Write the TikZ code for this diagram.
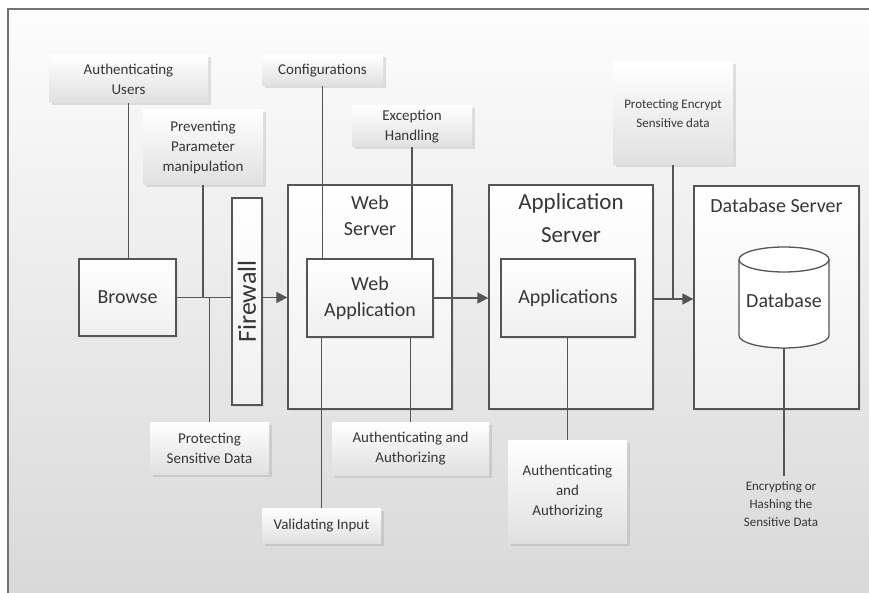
\documentclass[tikz,border=0pt]{standalone}
\usepackage{fontspec}
\setmainfont{Carlito}
\usepackage{tikz}
\usetikzlibrary{shadows}
\usetikzlibrary{arrows.meta}
\definecolor{linegray}{HTML}{555555}
\definecolor{textgray}{HTML}{363636}
\tikzset{note/.style={rectangle, top color=white, bottom color=black!12, align=center,
   text=textgray, font=\fontsize{15}{20}\selectfont,
   drop shadow={opacity=.22, shadow xshift=2.5pt, shadow yshift=-2.5pt}},
 small/.style={font=\fontsize{13}{19}\selectfont},
 block/.style={rectangle, draw=linegray, line width=1.3pt, top color=white, bottom color=black!6,
   align=center, text=textgray, font=\fontsize{20}{26}\selectfont,
   drop shadow={opacity=.12, shadow xshift=2pt, shadow yshift=-2pt}},
 title/.style={align=center, text=textgray, font=\fontsize{20}{26}\selectfont},
 wire/.style={draw=linegray, line width=1.3pt},
 flow/.style={wire, -{Triangle[length=11pt,width=11pt]}},
 }

\begin{document}
\begin{tikzpicture}[x=1pt, y=-1pt]
    \useasboundingbox (0,0) rectangle (869,593);
    \fill[white] (0,0) rectangle (869,593);
    \shade[top color=black!1, bottom color=black!15] (8,9) rectangle (869,593);
    \draw[black!55, line width=2pt] (8,593) -- (8,9) -- (869,9);

    % servers
    \node[block, minimum width=97, minimum height=77] (browse) at (127.5,297.5) {Browse};
    \node[block, minimum width=30, minimum height=207] (firewall) at (247,301.5) {};
    \node[title, rotate=90, font=\fontsize{26}{30}\selectfont] (fwtext) at (firewall.center) {Firewall};
    \node[block, minimum width=164, minimum height=224] (websrv) at (370,297) {};
    \node[title] (websrvtext) at (370,216) {Web\\Server};
    \node[block, minimum width=126, minimum height=78] (webapp) at (370,298) {Web\\Application};
    \node[block, minimum width=164, minimum height=224] (appsrv) at (571,297) {};
    \node[title, font=\fontsize{23}{33}\selectfont] (appsrvtext) at (571,218.5) {Application\\Server};
    \node[block, minimum width=134, minimum height=78] (apps) at (568,298) {Applications};
    \node[block, minimum width=165, minimum height=223] (dbsrv) at (776.5,297.5) {};
    \node[title] (dbsrvtext) at (776.5,206) {Database Server};

    % database cylinder
    \draw[wire, fill=white] (739,259.5) -- (739,335.5)
        arc[start angle=180, end angle=0, x radius=45, y radius=12.5] -- (829,259.5)
        arc[start angle=0, end angle=-180, x radius=45, y radius=12.5] -- cycle;
    \draw[wire] (739,259.5) arc[start angle=180, end angle=0, x radius=45, y radius=12.5];
    \node[title] (db) at (784,301) {Database};
    \coordinate (dbbot) at (784,348);

    % notes
    \node[note, minimum width=159, minimum height=48] (authusers) at (128.5,79) {Authenticating\\Users};
    \node[note, minimum width=120, minimum height=75] (prevent) at (203,147.5) {Preventing\\Parameter\\manipulation};
    \node[note, minimum width=121, minimum height=31] (config) at (322.5,70.5) {Configurations};
    \node[note, minimum width=120, minimum height=41] (exception) at (412,126.5) {Exception\\Handling};
    \node[note, small, minimum width=120, minimum height=103] (protenc) at (673,113.5) {Protecting Encrypt\\Sensitive data};
    \node[note, minimum width=119, minimum height=52] (protsens) at (209.5,448) {Protecting\\Sensitive Data};
    \node[note, minimum width=119, minimum height=35] (validate) at (321.5,525.5) {Validating Input};
    \node[note, minimum width=157, minimum height=53] (authweb) at (410.5,448.5) {Authenticating and\\Authorizing};
    \node[note, minimum width=119, minimum height=103] (authapp) at (567.5,491.5) {Authenticating\\and\\Authorizing};
    \node[small, align=center, text=textgray, inner ysep=5pt, font=\fontsize{13}{18}\selectfont] (encrypt) at (781,504) {Encrypting or\\Hashing the\\Sensitive Data};

    % connectors
    \draw[wire] (browse.east) -- (browse.east -| firewall.west);
    \draw[flow] (browse.east -| firewall.east) -- (browse.east -| websrv.west);
    \draw[flow] (webapp.east) -- (webapp.east -| appsrv.west);
    \draw[flow] (appsrv.east |- 0,299) -- (dbsrv.west |- 0,299);
    \draw[wire] (authusers.south) -- (authusers.south |- browse.north);
    \draw[wire] (prevent.south) -- (prevent.south |- browse.east);
    \draw[wire] (protsens.north |- browse.east) -- (protsens.north);
    \draw[wire] (config.south) -- (config.south |- webapp.north);
    \draw[wire] (exception.south) -- (exception.south |- webapp.north);
    \draw[wire] (validate.north |- webapp.south) -- (validate.north);
    \draw[wire] (authweb.north |- webapp.south) -- (authweb.north);
    \draw[wire] (authapp.north |- apps.south) -- (authapp.north);
    \draw[wire] (protenc.south) -- (protenc.south |- 0,299);
    \draw[wire] (dbbot) -- (dbbot |- encrypt.north);
\end{tikzpicture}
\end{document}
